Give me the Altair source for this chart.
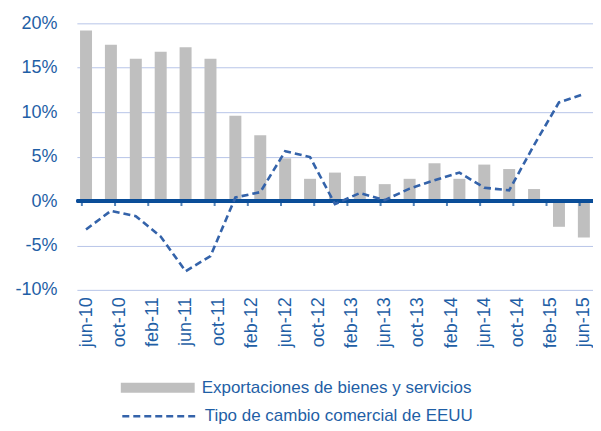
import altair as alt
import pandas as pd

# ---- data ----
periodos = ["jun-10", "sep-10", "dic-10", "mar-11", "jun-11", "sep-11", "dic-11",
            "mar-12", "jun-12", "sep-12", "dic-12", "mar-13", "jun-13", "sep-13",
            "dic-13", "mar-14", "jun-14", "sep-14", "dic-14", "mar-15", "jun-15"]
exportaciones = [19.2, 17.6, 16.0, 16.8, 17.3, 16.0, 9.6, 7.4, 4.8, 2.5, 3.2,
                 2.8, 1.9, 2.5, 4.25, 2.5, 4.1, 3.6, 1.35, -2.9, -4.1]
tipo_cambio = [-3.2, -1.1, -1.7, -4.0, -7.9, -6.2, 0.4, 1.0, 5.6, 4.95, -0.35,
               0.9, 0.1, 1.4, 2.35, 3.2, 1.5, 1.2, 6.3, 11.1, 12.05]
etiquetas_x = ["jun-10", "oct-10", "feb-11", "jun-11", "oct-11", "feb-12", "jun-12",
               "oct-12", "feb-13", "jun-13", "oct-13", "feb-14", "jun-14", "oct-14",
               "feb-15", "jun-15"]
y_ticks = [-10, -5, 0, 5, 10, 15, 20]

serie_bar = "Exportaciones de bienes y servicios"
serie_line = "Tipo de cambio comercial de EEUU"

MESES = {"ene": 1, "feb": 2, "mar": 3, "abr": 4, "may": 5, "jun": 6, "jul": 7,
         "ago": 8, "sep": 9, "oct": 10, "nov": 11, "dic": 12}


def mes_idx(p):
    m, a = p.split("-")
    return (2000 + int(a) - 2010) * 12 + MESES[m] - 6


df = pd.DataFrame({
    "periodo": periodos,
    "x": [mes_idx(p) for p in periodos],
    "exp": exportaciones,
    "tc": tipo_cambio,
    "s_bar": serie_bar,
    "s_line": serie_line,
})
tick_idx = [mes_idx(p) for p in etiquetas_x]
df_ticks = pd.DataFrame({"x": [i - 0.5 for i in tick_idx], "y": 0})

TEXT = "#1F5FA6"
AXIS = "#0B4E98"
LINE = "#3463AA"
BAR = "#BFBFBF"
GRID = "#B8C5E8"
FONT = "Liberation Sans"

label_arr = "[" + ",".join("'%s'" % s for s in etiquetas_x) + "]"
x_scale = alt.Scale(domain=[-0.5, 60.5], nice=False, zero=False)
y_scale = alt.Scale(domain=[-10, 20], nice=False)

x_axis = alt.Axis(values=tick_idx, labelExpr=label_arr + "[datum.value/4]",
                  labelAngle=270, labelAlign="right", labelBaseline="middle",
                  labelFontSize=18, labelColor=TEXT, labelFont=FONT,
                  labelOverlap=False, labelBound=False, labelFlush=False,
                  labelPadding=7, domain=False, ticks=False, grid=False, title=None)
y_axis = alt.Axis(values=y_ticks, labelExpr="datum.value + '%'",
                  labelFontSize=18, labelColor=TEXT, labelFont=FONT,
                  labelPadding=20, domain=False, ticks=False, grid=True,
                  gridColor=GRID, gridWidth=1, title=None)

X = alt.X("x:Q", scale=x_scale, axis=x_axis)

bars = alt.Chart(df).mark_bar(size=12).encode(
    x=X,
    y=alt.Y("exp:Q", scale=y_scale, axis=y_axis),
    color=alt.Color("s_bar:N", scale=alt.Scale(range=[BAR]),
                    legend=alt.Legend(orient="none", legendX=44, legendY=328,
                                      title=None,
                                      symbolType="M-1,-0.135H1V0.135H-1Z",
                                      symbolSize=5476, symbolStrokeWidth=0,
                                      labelFontSize=17, labelColor=TEXT,
                                      labelFont=FONT, labelOffset=7,
                                      labelLimit=400)),
)

zero = alt.Chart(df).mark_rule(color=AXIS, strokeWidth=2.5).encode(y=alt.datum(0))

ticks = alt.Chart(df_ticks).mark_tick(orient="vertical", size=5, thickness=2,
                                      yOffset=2.5, color=AXIS).encode(
    x=X,
    y=alt.Y("y:Q", scale=y_scale, axis=y_axis),
)

line = alt.Chart(df).mark_line(color=LINE, strokeWidth=2.6).encode(
    x=X,
    y=alt.Y("tc:Q", scale=y_scale, axis=y_axis),
    strokeDash=alt.StrokeDash("s_line:N", scale=alt.Scale(range=[[7, 4]]),
                              legend=alt.Legend(orient="none", legendX=44, legendY=355,
                                                title=None, symbolType="stroke",
                                                symbolSize=5476,
                                                symbolStrokeColor=LINE,
                                                symbolStrokeWidth=2.5,
                                                labelFontSize=17, labelColor=TEXT,
                                                labelFont=FONT, labelOffset=7,
                                                labelLimit=400)),
)

chart = alt.layer(bars, zero, ticks, line).resolve_legend(
    color="independent", strokeDash="independent"
).properties(
    width=517, height=267,
    padding={"left": 69, "top": 15, "right": 0, "bottom": 134},
    autosize=alt.AutoSizeParams(type="none"),
).configure_view(stroke=None).configure_axisX(labelOverlap=False)

chart.save("out.html", embed_options={"renderer": "svg", "actions": False})
